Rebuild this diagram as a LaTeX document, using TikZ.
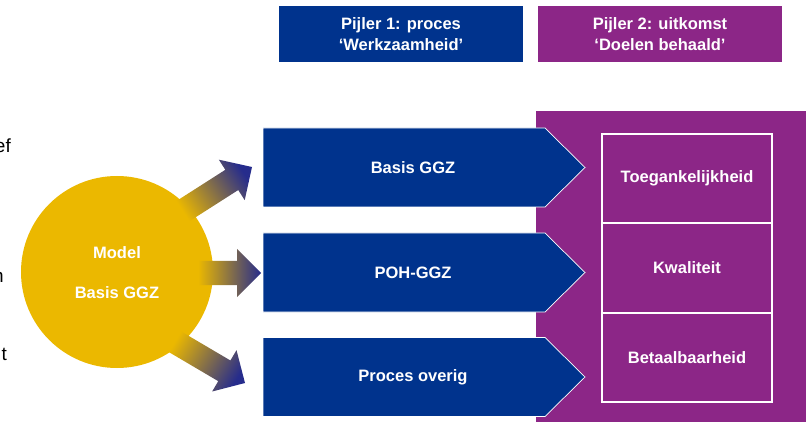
\documentclass[tikz,border=0pt]{standalone}
\usepackage{fontspec}
\setmainfont{Liberation Sans}
\usetikzlibrary{calc}
\definecolor{ggzblue}{RGB}{0,51,141}
\definecolor{ggzpurple}{RGB}{140,38,135}
\definecolor{ggzgold}{RGB}{235,184,0}
\definecolor{ggznavy}{RGB}{38,44,140}
\begin{document}
\begin{tikzpicture}[x=1pt,y=-1pt,
  lbl/.style={text=white, font=\fontsize{16.5}{21}\selectfont\bfseries, align=center, inner sep=0pt},
  pillar/.style={lbl, minimum width=244pt, minimum height=56pt},
  goalbox/.style={lbl, draw=white, line width=2pt, minimum width=170pt, minimum height=89pt},
  pent/.style={fill=ggzblue, draw=white, line width=0.7pt},
  cut/.style={font=\fontsize{19}{22}\selectfont, text=black, inner sep=0pt, anchor=base east},
  grad/.style={left color=ggzgold, right color=ggznavy, shading angle=#1}
]
\useasboundingbox (0,0) rectangle (806,422);
\clip (0,0) rectangle (806,422);

% pillar headers
\node[pillar, fill=ggzblue] (h1) at (401,34) {Pijler 1: proces\\‘Werkzaamheid’};
\node[pillar, fill=ggzpurple] (h2) at (660,34) {Pijler 2: uitkomst\\‘Doelen behaald’};

% purple background
\node[fill=ggzpurple, anchor=north west, minimum width=270pt, minimum height=311pt, inner sep=0pt] (bg) at (536,111) {};

% goal boxes
\node[goalbox] (g1) at (687,178.5) {Toegankelijkheid};
\node[goalbox] (g2) at (687,268) {Kwaliteit};
\node[goalbox] (g3) at (687,357.5) {Betaalbaarheid};

% process pentagons
\path[pent] (263,128) -- (545,128) -- (585,167.5) -- (545,207) -- (263,207) -- cycle;
\path[pent] (263,233) -- (545,233) -- (585,272.5) -- (545,312) -- (263,312) -- cycle;
\path[pent] (263,337.5) -- (545,337.5) -- (585,377) -- (545,416.5) -- (263,416.5) -- cycle;
\node[lbl] (b1) at (413,167.5) {Basis GGZ};
\node[lbl] (b2) at (413,272.5) {POH-GGZ};
\node[lbl] (b3) at (413,377.5) {Proces overig};

% cut-off text on the left
\node[cut] (c1) at (11,153) {ef};
\node[cut] (c2) at (4,282) {n};
\node[cut] (c3) at (7,360) {t};

% model circle
\node[circle, fill=ggzgold, minimum size=192pt, inner sep=0pt] (m) at (117,272) {};
\node[lbl] (mt) at (117,273) {Model\\[19pt]Basis GGZ};

% gradient arrows
\coordinate (s1) at (180,213); \coordinate (t1) at (252,167);
\coordinate (s2) at (198,273); \coordinate (t2) at (261,273);
\coordinate (s3) at (172,340); \coordinate (t3) at (245,383);
\foreach \i/\a in {1/123,2/90,3/59.5}{
  \coordinate (h\i) at ($(t\i)!24pt!(s\i)$);
  \shade[grad=\a]
    ($(s\i)!12pt!90:(t\i)$) -- ($(h\i)!12pt!-90:(s\i)$) -- ($(h\i)!24pt!-90:(s\i)$)
    -- (t\i) -- ($(h\i)!24pt!90:(s\i)$) -- ($(h\i)!12pt!90:(s\i)$)
    -- ($(s\i)!12pt!-90:(t\i)$) -- cycle;
}
\end{tikzpicture}
\end{document}
